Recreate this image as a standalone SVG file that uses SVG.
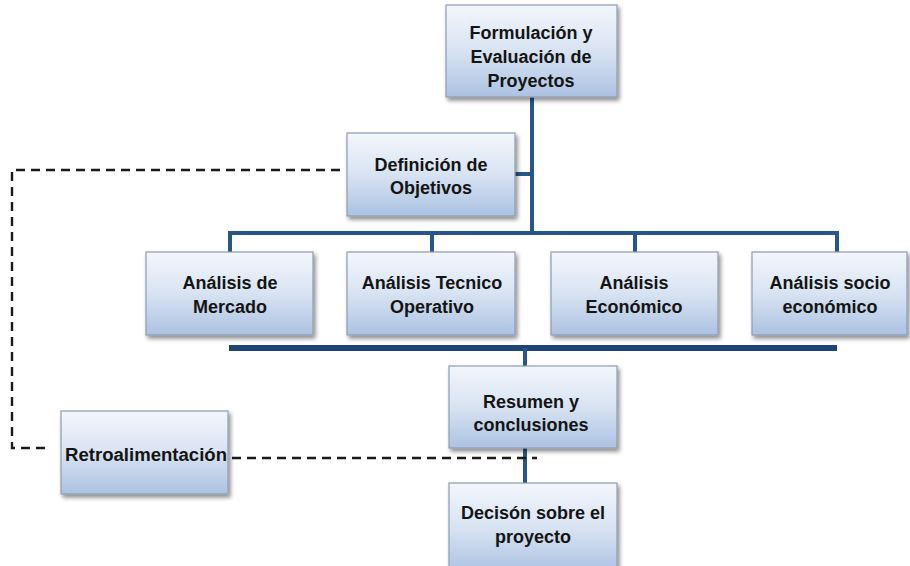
<svg xmlns="http://www.w3.org/2000/svg" width="910" height="566" viewBox="0 0 910 566">
<defs>
<linearGradient id="g" x1="0" y1="0" x2="0" y2="1">
<stop offset="0" stop-color="#f3f6fc"/>
<stop offset="0.5" stop-color="#d8e3f2"/>
<stop offset="1" stop-color="#acc2e2"/>
</linearGradient>
<filter id="sh" x="-10%" y="-10%" width="125%" height="130%">
<feDropShadow dx="2" dy="3" stdDeviation="2" flood-color="#000" flood-opacity="0.45"/>
</filter>
</defs>
<style>
.box{fill:url(#g);stroke:#8d9cb0;stroke-width:1.2;filter:url(#sh)}
.t{font-family:"Liberation Sans",Arial,sans-serif;font-weight:bold;font-size:18px;fill:#141414;text-anchor:middle}
.ln{stroke:#27568a;stroke-width:4;fill:none}
.bar{stroke:#1f4474;stroke-width:6;fill:none}
.dash{stroke:#1a1a1a;stroke-width:2.4;fill:none;stroke-dasharray:9 6}
</style>
<rect width="910" height="566" fill="#ffffff"/>
<g id="connectors">
<path class="ln" d="M532 97V233M515 174H532M230 233H837M230 231V252M432 231V252M635 231V252M837 231V252"/>
<path class="bar" d="M229 348H837"/>
<path class="ln" d="M525 348V366M525 448V483"/>
<path class="dash" d="M340 170H12V448H48"/>
<path class="dash" d="M232 458H537"/>
</g>
<g id="n-formulacion">
<rect class="box" x="446" y="5" width="171" height="92"/>
<text class="t" x="531" y="39">Formulación y</text>
<text class="t" x="531" y="63">Evaluación de</text>
<text class="t" x="531" y="87">Proyectos</text>
</g>
<g id="n-definicion">
<rect class="box" x="347" y="133" width="168" height="83"/>
<text class="t" x="431" y="171">Definición de</text>
<text class="t" x="431" y="194">Objetivos</text>
</g>
<g id="n-mercado">
<rect class="box" x="146" y="252" width="167" height="83"/>
<text class="t" x="230" y="289">Análisis de</text>
<text class="t" x="230" y="313">Mercado</text>
</g>
<g id="n-tecnico">
<rect class="box" x="347" y="252" width="168" height="83"/>
<text class="t" x="432" y="289">Análisis Tecnico</text>
<text class="t" x="432" y="313">Operativo</text>
</g>
<g id="n-economico">
<rect class="box" x="551" y="252" width="167" height="83"/>
<text class="t" x="634" y="289">Análisis</text>
<text class="t" x="634" y="313">Económico</text>
</g>
<g id="n-socio">
<rect class="box" x="752" y="252" width="155" height="83"/>
<text class="t" x="830" y="289">Análisis socio</text>
<text class="t" x="830" y="313">económico</text>
</g>
<g id="n-resumen">
<rect class="box" x="449" y="366" width="168" height="82"/>
<text class="t" x="531" y="408">Resumen y</text>
<text class="t" x="531" y="431">conclusiones</text>
</g>
<g id="n-retro">
<rect class="box" x="61" y="411" width="167" height="83"/>
<text class="t" x="65" y="461" style="text-anchor:start" textLength="162" lengthAdjust="spacingAndGlyphs">Retroalimentación</text>
</g>
<g id="n-decision">
<rect class="box" x="449" y="483" width="168" height="90"/>
<text class="t" x="533" y="519">Decisón sobre el</text>
<text class="t" x="533" y="543">proyecto</text>
</g>
</svg>
